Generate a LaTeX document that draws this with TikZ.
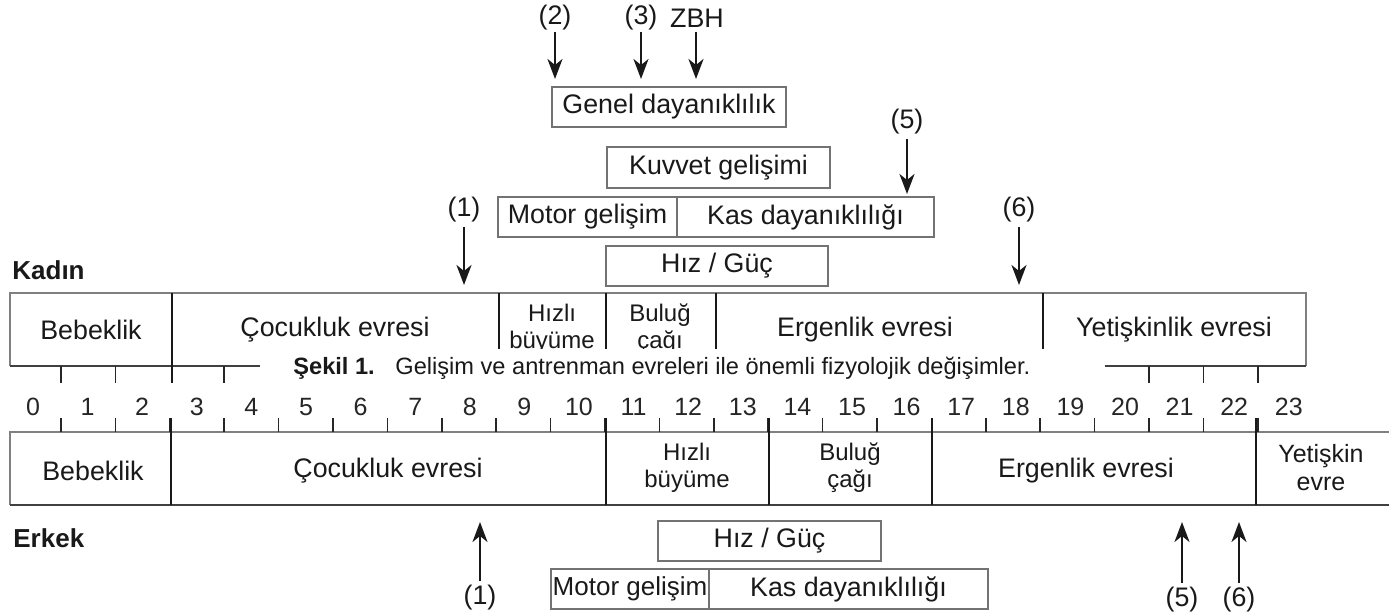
\documentclass[tikz,border=0pt]{standalone}
\usepackage{fontspec}
\setmainfont{Liberation Sans}
\usetikzlibrary{arrows.meta}
\begin{document}
\begin{tikzpicture}[x=0.5pt,y=-0.5pt,
  txt/.style={font=\fontsize{13.4}{15}\selectfont, text=black!90, inner sep=0pt},
  two/.style={font=\fontsize{12}{13.5}\selectfont, text=black!90, inner sep=0pt, align=center},
  box/.style={draw=black!55, line width=0.7pt, font=\fontsize{13.4}{15}\selectfont, text=black!90, inner sep=0pt, minimum height=20pt},
  arr/.style={line width=1.1pt, draw=black!90, -{Stealth[length=10pt,width=7.5pt,inset=3pt]}},
  num/.style={font=\fontsize{12.5}{14}\selectfont, text=black!85, inner sep=0pt},
  barline/.style={draw=black!50, line width=0.7pt},
  barbottom/.style={draw=black!75, line width=1.2pt},
  divider/.style={draw=black!90, line width=0.9pt},
  tickmark/.style={draw=black!85, line width=0.8pt},
  lab/.style={font=\bfseries\fontsize{13}{15}\selectfont, text=black!90, inner sep=0pt}]

\useasboundingbox (0,0) rectangle (1389,615);
\fill[white] (0,0) rectangle (1389,615);

% ---------- top labels and arrows ----------
\node[txt] (l2) at (555,18) {(2)};
\node[txt] (l3) at (641,18) {(3)};
\node[txt] (lz) at (697,18) {ZBH};
\coordinate (e2) at (555,79);
\coordinate (e3) at (641,79);
\coordinate (ez) at (696,79);
\draw[arr] (l2.south |- 0,32) -- (e2);
\draw[arr] (l3.south |- 0,32) -- (e3);
\draw[arr] (696,32) -- (ez);

\node[box, minimum width=117pt] (genel) at (669,107) {Genel dayanıklılık};

\node[txt] (l5) at (907,122) {(5)};
\coordinate (e5) at (907,194);
\draw[arr] (l5.south) ++(0,4) -- (e5);

\node[box, minimum width=111.5pt, minimum height=20.5pt] (kuvvet) at (718.5,167.5) {Kuvvet gelişimi};
\node[box, minimum width=89.5pt] (motorT) at (587.5,217) {Motor gelişim};
\node[box, minimum width=128.5pt] (kasT) at (805.5,217) {Kas dayanıklılığı};

\node[txt] (l1) at (464,210) {(1)};
\node[txt] (l6) at (1019,210) {(6)};
\coordinate (e1) at (464,285);
\coordinate (e6) at (1019,285);
\draw[arr] (l1.south) ++(0,4) -- (e1);
\draw[arr] (l6.south) ++(0,4) -- (e6);

\node[lab, anchor=west] (kadin) at (12,270) {Kadın};
\node[box, minimum width=111pt] (hizT) at (717,266) {Hız / Güç};

% ---------- top bar (Kadın) ----------
\draw[barline] (10,366) -- (10,293) -- (1306,293) -- (1306,366);
\draw[barbottom] (10,366) -- (1306,366);
\foreach \x in {499,606,716,1043} \draw[divider] (\x,293) -- (\x,366);
\draw[divider] (172,293) -- (172,383);
\foreach \k in {0,1,3,...,19,20,21,22} \draw[tickmark] ({61+54.4*\k},366) -- ({61+54.4*\k},383);

\node[txt] (kBeb) at (91,330) {Bebeklik};
\node[txt] (kCoc) at (335,330) {Çocukluk evresi};
\node[two] (kHiz) at (552,329) {Hızlı\\büyüme};
\node[two] (kBul) at (660,329) {Buluğ\\çağı};
\node[txt] (kErg) at (865,330) {Ergenlik evresi};
\node[txt] (kYet) at (1174,330) {Yetişkinlik evresi};

% ---------- caption overlay ----------
\fill[white] (260,349) rectangle (1105,386);
\node[anchor=west, inner sep=0pt, font=\fontsize{11.8}{14}\selectfont, text=black!90] (caption) at (293,368)
  {\textbf{Şekil 1.}\hspace{6pt} Gelişim ve antrenman evreleri ile önemli fizyolojik değişimler.};

% ---------- age axis ----------
\foreach \k in {0,...,23} \node[num] (n\k) at ({33+54.6*\k},407) {\k};

% ---------- bottom bar (Erkek) ----------
\draw[barline] (1389,432) -- (10,432) -- (10,505);
\draw[barbottom] (10,505) -- (1389,505);
\foreach \k in {0,...,22} \draw[tickmark] ({61+54.4*\k},418) -- ({61+54.4*\k},432);
\foreach \x in {171,606,769,932,1256} \draw[divider] (\x,418) -- (\x,505);

\node[txt] (eBeb) at (93,471) {Bebeklik};
\node[txt] (eCoc) at (388,471) {Çocukluk evresi};
\node[two] (eHiz) at (687,468) {Hızlı\\büyüme};
\node[two] (eBul) at (850,468) {Buluğ\\çağı};
\node[txt] (eErg) at (1086,471) {Ergenlik evresi};
\node[two, font=\fontsize{12.5}{14}\selectfont] (eYet) at (1321,468) {Yetişkin\\evre};

\node[lab, anchor=west] (erkek) at (13,538) {Erkek};

\node[box, minimum width=111.5pt] (hizB) at (769.5,541) {Hız / Güç};
\node[box, minimum width=79pt, font=\fontsize{13}{15}\selectfont] (motorB) at (630,589) {Motor gelişim};
\node[box, minimum width=139.5pt] (kasB) at (848.5,589) {Kas dayanıklılığı};

\node[txt] (b1) at (480,598) {(1)};
\node[txt] (b5) at (1182,600) {(5)};
\node[txt] (b6) at (1239,600) {(6)};
\coordinate (t1) at (480,522);
\coordinate (t5) at (1182,522);
\coordinate (t6) at (1239,522);
\draw[arr] (b1.north) ++(0,-4) -- (t1);
\draw[arr] (b5.north) ++(0,-4) -- (t5);
\draw[arr] (b6.north) ++(0,-4) -- (t6);
\end{tikzpicture}
\end{document}
